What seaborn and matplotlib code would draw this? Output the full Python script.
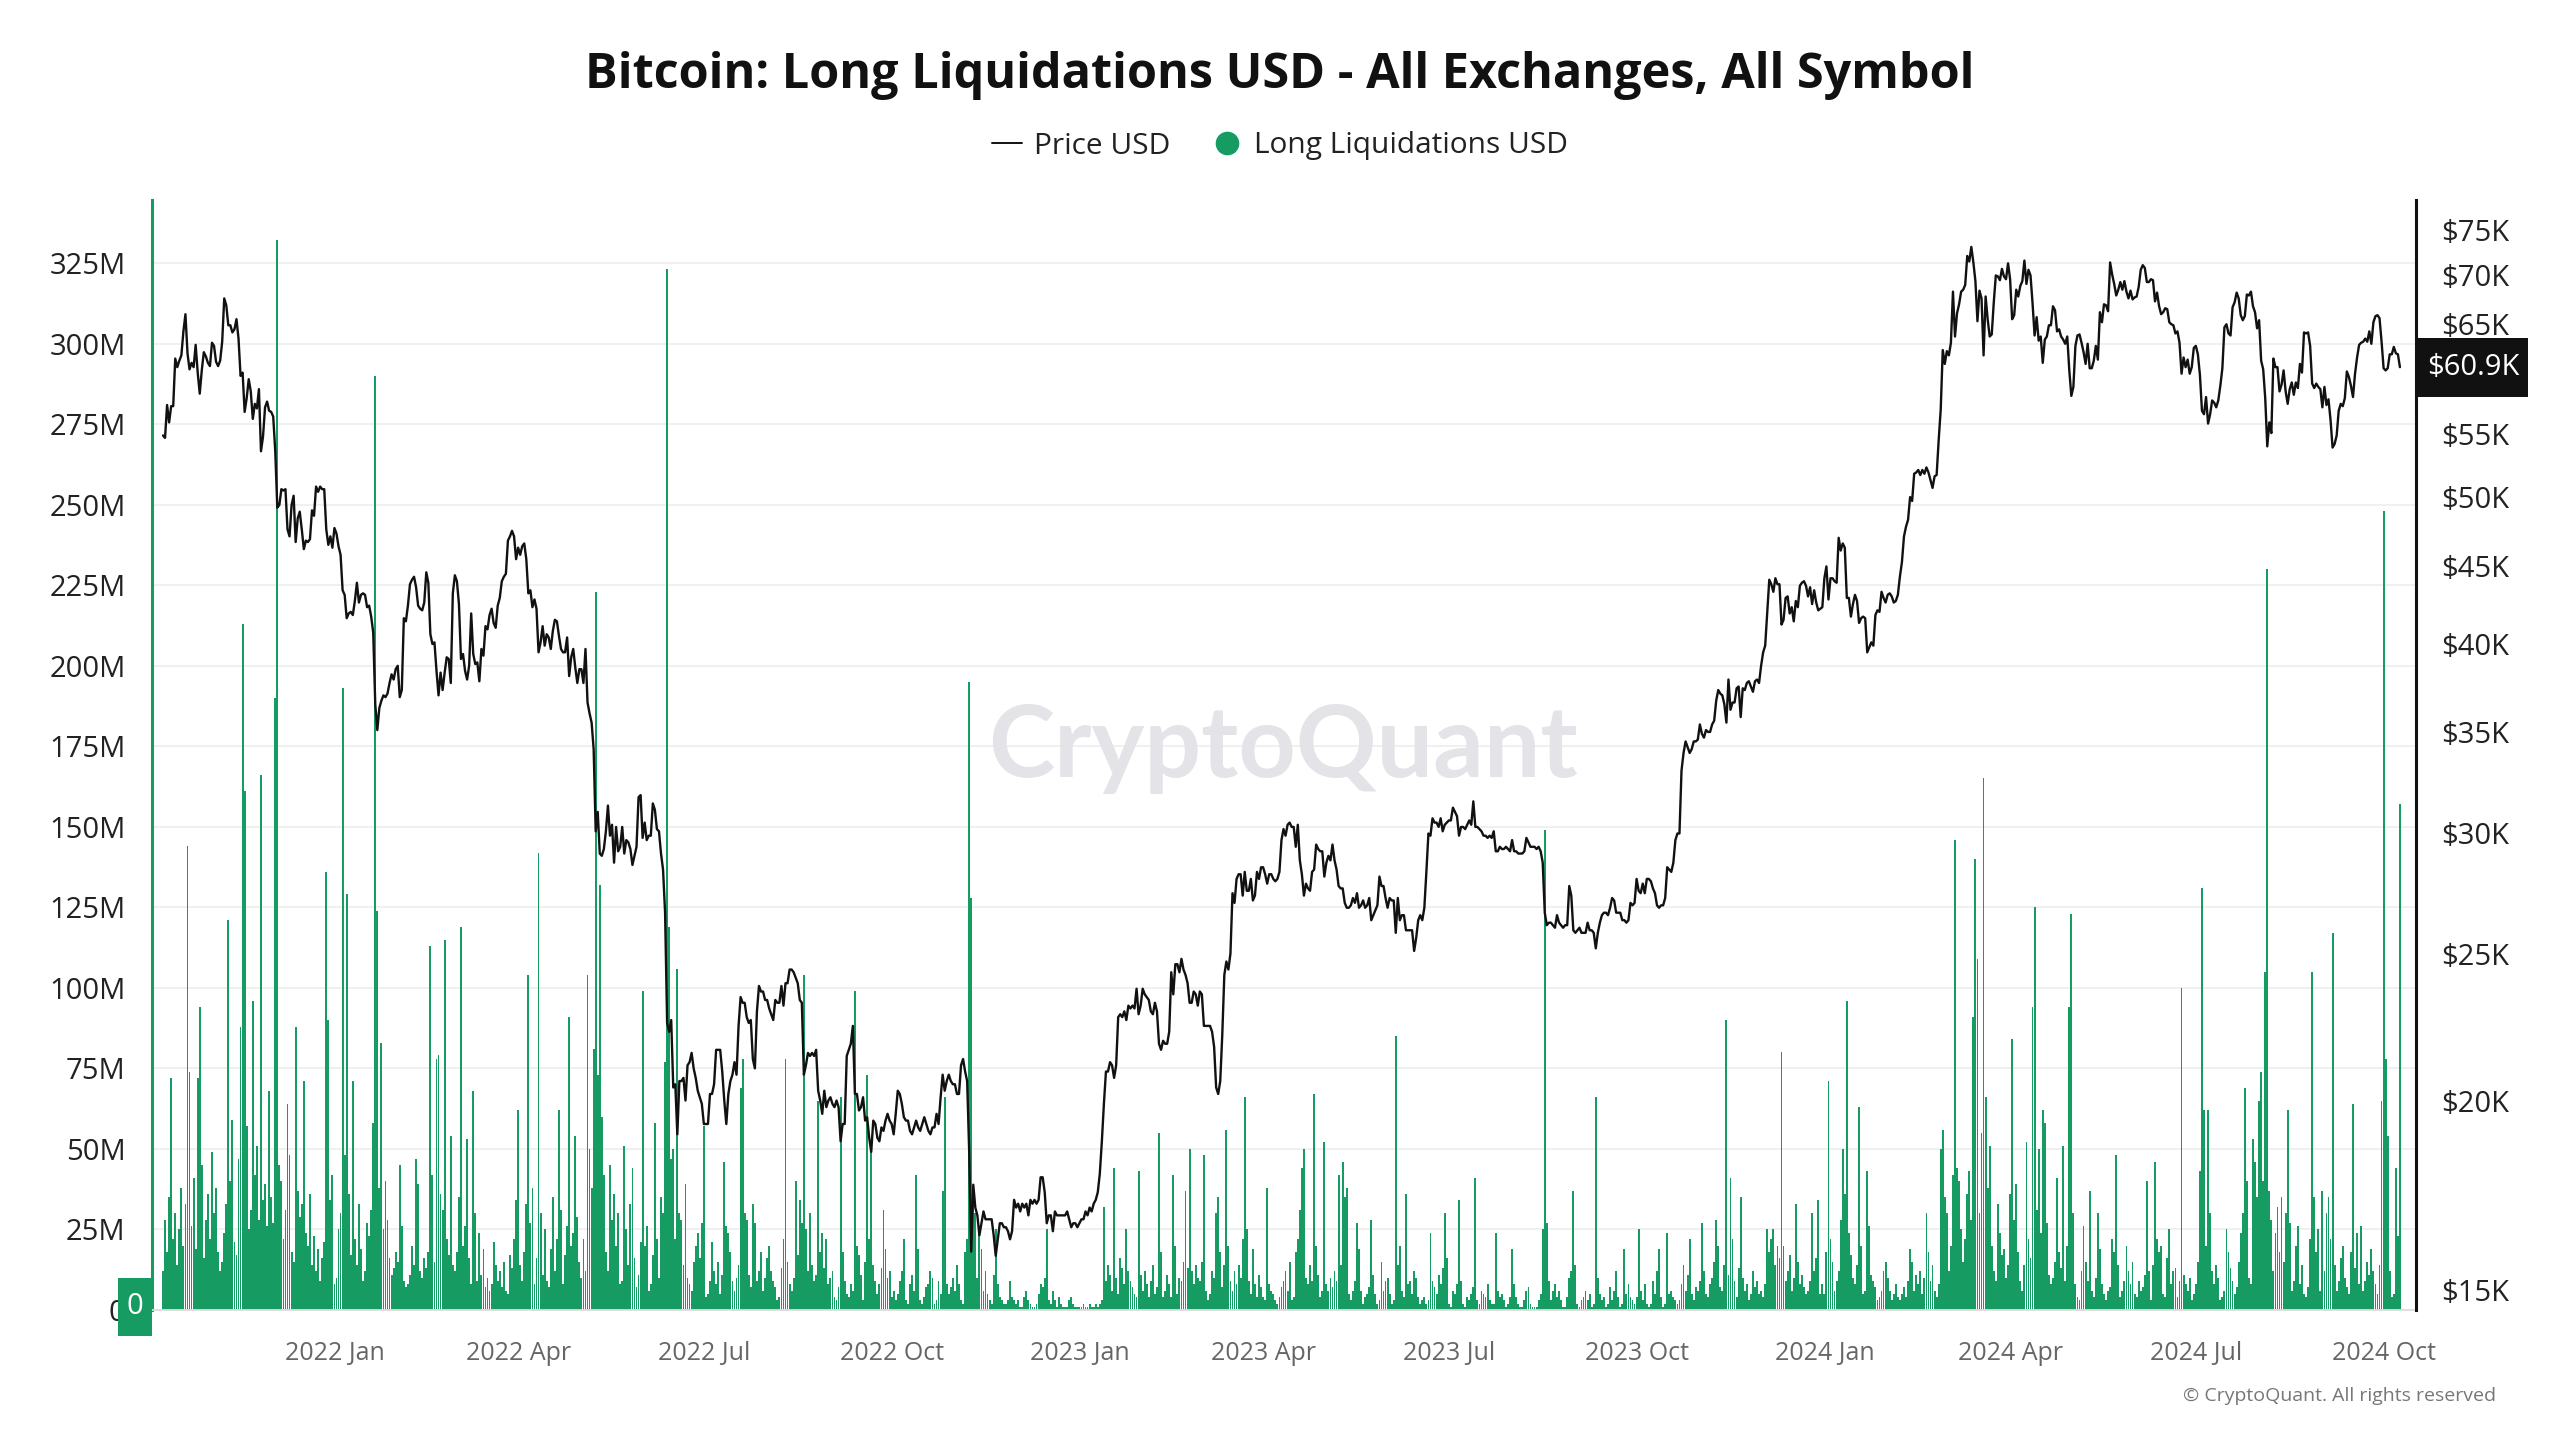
import numpy as np
import pandas as pd
import matplotlib
matplotlib.use("Agg")
import matplotlib.pyplot as plt
import matplotlib.ticker as mticker
from matplotlib.lines import Line2D
from matplotlib.patches import Rectangle
import seaborn as sns

# ---------------- data (daily, starting 2021-10-09) ----------------
START_DATE = "2021-10-09"

# Long liquidations, USD millions
liq_2021 = [12, 28, 18, 35, 72, 22, 30, 14, 25, 38, 20, 33, 144, 74, 26, 41, 19, 72, 94, 45, 16, 28, 36,
            22, 49, 30, 38, 18, 12, 15, 24, 33, 121, 40, 59, 21, 17, 47, 88, 213, 161, 57, 25, 31, 96, 42, 51, 28, 166, 34, 39, 26, 68,
            35, 27, 190, 332, 45, 40, 22, 31, 64, 48, 18, 15, 88, 37, 29, 33, 71, 24, 20, 36, 14, 23, 12, 19, 9, 16, 21, 136, 90, 34, 42]
liq_2022 = [8, 10, 25, 30, 193, 48, 129, 36, 17, 71, 22, 14, 33, 19, 9, 12, 27, 23, 31, 58, 290, 124, 38, 83, 25, 40, 28, 16, 11, 13, 18,
            15, 45, 26, 9, 7, 8, 11, 20, 14, 47, 39, 12, 10, 16, 13, 18, 113, 42, 15, 78, 79, 36, 31, 115, 22, 17, 54, 14,
            12, 18, 35, 119, 20, 26, 53, 16, 8, 68, 30, 9, 24, 11, 19, 7, 10, 6, 8, 21, 14, 9, 12, 7, 15, 6, 5, 17, 13, 22, 34,
            62, 14, 9, 18, 33, 104, 27, 38, 8, 16, 142, 30, 11, 25, 9, 7, 19, 35, 12, 22, 62, 31, 8, 17, 26, 91, 20, 24, 54, 29,
            15, 10, 22, 12, 104, 50, 38, 81, 223, 73, 132, 60, 42, 18, 12, 45, 28, 36, 20, 30, 8, 9, 51, 25, 14, 33, 44, 16, 7, 11, 21,
            99, 20, 26, 6, 8, 17, 58, 22, 10, 35, 30, 77, 323, 119, 47, 50, 22, 106, 30, 28, 14, 39, 10, 8, 6, 15, 20, 24, 16, 27,
            57, 4, 5, 9, 21, 12, 8, 15, 5, 11, 46, 26, 24, 18, 9, 6, 10, 14, 69, 78, 30, 28, 11, 7, 33, 27, 9, 12, 18, 6, 10,
            16, 20, 12, 9, 7, 3, 4, 13, 22, 78, 15, 8, 6, 10, 40, 17, 34, 27, 104, 25, 12, 30, 14, 9, 11, 65, 18, 24, 13, 22, 8,
            10, 12, 4, 3, 7, 66, 18, 9, 5, 4, 8, 6, 99, 20, 17, 11, 3, 15, 73, 22, 50, 14, 9, 5, 8, 13, 31, 19, 10, 12,
            4, 6, 3, 5, 9, 12, 22, 3, 2, 8, 11, 6, 42, 19, 3, 2, 4, 7, 8, 12, 10, 2, 3, 9, 5, 37, 66, 8, 5, 7, 10,
            6, 14, 8, 3, 2, 18, 22, 195, 128, 38, 30, 10, 25, 19, 6, 12, 5, 3, 2, 11, 25, 8, 4, 3, 2, 2, 3, 9, 4, 3,
            2, 3, 1, 1, 4, 6, 3, 2, 1, 1, 2, 5, 8, 7, 10, 25, 3, 2, 6, 3, 1, 4, 2, 1, 1, 1, 3, 4, 2, 1, 1]
liq_2023 = [1, 1, 2, 1, 1, 2, 1, 1, 2, 1, 2, 3, 32, 9, 14, 11, 6, 44, 10, 5, 16, 13, 8, 25, 12, 9, 7, 5, 4, 43, 11,
            6, 12, 8, 4, 9, 14, 5, 7, 55, 18, 4, 6, 11, 8, 4, 42, 20, 5, 10, 9, 15, 37, 13, 50, 12, 8, 14, 10,
            9, 15, 48, 6, 3, 5, 12, 10, 30, 35, 18, 7, 14, 56, 20, 9, 6, 12, 8, 14, 10, 22, 66, 25, 9, 5, 19, 8, 4, 11, 7,
            4, 3, 38, 8, 6, 5, 3, 2, 4, 7, 9, 12, 6, 15, 3, 4, 18, 22, 31, 44, 50, 10, 8, 14, 9, 67, 20, 11, 4, 6,
            52, 8, 6, 10, 7, 12, 9, 42, 14, 46, 35, 38, 5, 3, 6, 9, 27, 19, 6, 2, 4, 5, 7, 28, 11, 5, 2, 3, 15, 6, 9,
            10, 5, 2, 3, 85, 14, 20, 6, 4, 36, 8, 9, 5, 12, 10, 4, 2, 3, 4, 2, 3, 24, 9, 7, 5, 11, 8, 13, 30, 16,
            2, 1, 6, 5, 8, 34, 9, 2, 1, 4, 3, 5, 7, 41, 3, 2, 6, 5, 4, 8, 3, 2, 2, 24, 6, 4, 5, 3, 1, 2, 4,
            19, 8, 4, 2, 1, 1, 3, 6, 7, 2, 1, 1, 1, 3, 5, 25, 149, 27, 9, 3, 6, 8, 4, 6, 3, 1, 1, 4, 10, 12, 37,
            14, 2, 1, 3, 4, 6, 3, 5, 1, 2, 66, 10, 5, 3, 4, 1, 2, 7, 3, 6, 12, 4, 1, 2, 19, 5, 8, 4, 3, 2,
            4, 25, 6, 3, 8, 2, 1, 2, 9, 5, 12, 19, 4, 1, 2, 24, 5, 6, 4, 3, 2, 3, 8, 14, 6, 11, 22, 5, 3, 7, 6,
            9, 27, 12, 5, 4, 8, 10, 15, 28, 20, 7, 6, 14, 90, 11, 41, 22, 9, 4, 13, 35, 10, 6, 8, 3, 5, 12, 7, 9, 5,
            6, 4, 8, 25, 18, 22, 25, 14, 20, 16, 80, 20, 9, 12, 17, 6, 10, 33, 15, 8, 11, 7, 5, 6, 9, 30, 12, 16, 34, 5, 8]
liq_2024 = [5, 18, 71, 22, 15, 6, 9, 12, 28, 50, 36, 96, 24, 17, 10, 8, 14, 63, 20, 5, 6, 43, 26, 11, 9, 7, 3, 4, 6, 12, 15,
            10, 6, 3, 5, 8, 4, 3, 5, 7, 4, 9, 19, 15, 6, 11, 8, 12, 5, 10, 30, 18, 9, 14, 6, 4, 8, 50, 56, 35,
            30, 12, 20, 42, 146, 44, 40, 25, 15, 22, 36, 43, 28, 91, 140, 109, 30, 55, 165, 66, 38, 51, 20, 12, 9, 33, 24, 17, 19, 10, 14,
            36, 84, 28, 39, 18, 9, 6, 14, 52, 22, 16, 94, 125, 31, 50, 24, 62, 58, 27, 11, 8, 10, 15, 41, 18, 13, 51, 9, 20, 94,
            123, 30, 8, 4, 3, 12, 26, 15, 9, 37, 6, 4, 10, 30, 19, 8, 5, 3, 6, 7, 22, 18, 48, 14, 4, 6, 9, 20, 12, 8, 15,
            5, 4, 9, 6, 7, 11, 40, 12, 3, 14, 46, 22, 18, 20, 5, 4, 16, 25, 8, 12, 13, 4, 9, 100, 11, 8, 6, 10, 3, 5,
            8, 15, 43, 131, 62, 20, 62, 30, 12, 8, 14, 10, 3, 4, 6, 25, 18, 13, 9, 5, 7, 15, 24, 30, 69, 40, 10, 8, 53, 46, 35,
            65, 74, 40, 105, 230, 37, 28, 12, 24, 32, 18, 35, 15, 30, 62, 27, 6, 9, 20, 26, 8, 14, 5, 4, 7, 22, 105, 35, 18, 25, 6,
            37, 12, 30, 35, 22, 117, 14, 6, 9, 16, 20, 10, 7, 5, 18, 64, 13, 24, 8, 26, 6, 9, 15, 11, 19, 12, 8, 5, 14, 65,
            248, 78, 54, 12, 4, 5, 44, 23, 157]

# BTC price, USD thousands
price_2021 = [54.9, 54.7, 57.5, 56.0, 57.4, 57.4, 61.7, 60.9, 61.5, 62.0, 64.3, 66.0, 62.2, 60.7, 61.3, 60.9, 63.0, 60.4, 58.5, 60.6, 62.3, 61.9, 61.3,
              61.0, 63.2, 62.9, 61.4, 61.0, 61.5, 63.3, 67.6, 66.9, 64.9, 64.9, 64.2, 64.5, 65.5, 63.6, 60.1, 60.4, 56.9, 58.1, 59.8, 58.7, 56.3, 57.6, 57.2, 58.9, 53.6, 54.8, 57.3, 57.8, 57.0,
              56.9, 56.5, 53.6, 49.2, 49.4, 50.6, 50.5, 50.6, 47.6, 47.1, 49.4, 50.1, 46.7, 48.4, 48.9, 47.6, 46.2, 46.8, 46.7, 46.9, 49.0, 48.6, 50.8, 50.4, 50.8, 50.6, 50.6, 47.6, 46.5, 47.1, 46.3]
price_2022 = [47.7, 47.3, 46.4, 45.8, 43.4, 43.1, 41.6, 41.9, 42.0, 41.8, 42.7, 43.9, 42.6, 43.1, 43.2, 43.1, 42.3, 42.4, 41.7, 40.7, 36.5, 35.1, 36.3, 36.7, 37.0, 36.9, 37.1, 37.7, 38.2, 37.9, 38.5,
              38.7, 36.9, 37.3, 41.6, 41.4, 42.4, 43.8, 44.1, 44.3, 43.6, 42.4, 42.2, 42.1, 42.6, 44.6, 43.9, 40.6, 40.0, 40.1, 38.4, 37.0, 38.3, 37.3, 38.3, 39.2, 39.1, 37.7, 43.2,
              44.4, 44.0, 42.5, 39.1, 39.4, 38.4, 37.9, 38.7, 41.9, 39.4, 38.8, 38.9, 37.8, 39.7, 39.3, 41.1, 40.9, 41.8, 42.2, 41.3, 41.0, 42.4, 42.9, 44.0, 44.3, 44.5, 46.8, 47.1, 47.5, 47.1, 45.5,
              46.3, 45.8, 46.4, 46.6, 45.5, 43.2, 43.4, 42.3, 42.8, 42.2, 39.5, 40.1, 41.1, 39.9, 40.6, 40.4, 39.7, 40.8, 41.5, 41.4, 40.5, 39.7, 39.5, 39.5, 40.4, 38.1, 39.2, 39.7, 38.6, 37.7,
              38.5, 38.5, 37.7, 39.7, 36.6, 36.0, 35.5, 34.1, 30.1, 31.0, 29.1, 29.0, 29.3, 30.1, 31.3, 29.9, 30.4, 28.7, 30.3, 29.2, 29.4, 30.3, 29.1, 29.7, 29.6, 29.3, 28.6, 29.0, 29.4, 31.7, 31.8,
              29.8, 30.5, 29.7, 29.9, 29.9, 31.4, 31.1, 30.2, 30.1, 29.1, 28.4, 26.6, 22.5, 22.2, 22.6, 20.4, 20.5, 19.0, 20.6, 20.6, 20.7, 20.0, 21.1, 21.2, 21.5, 21.0, 20.7, 20.3, 20.1, 19.9,
              19.3, 19.3, 19.3, 20.2, 20.2, 20.5, 21.6, 21.6, 21.6, 20.9, 20.0, 19.3, 20.2, 20.6, 20.8, 21.2, 20.8, 22.4, 23.4, 23.2, 23.2, 22.7, 22.5, 22.6, 21.3, 21.0, 22.9, 23.8, 23.6, 23.6, 23.3,
              23.3, 23.0, 22.8, 22.6, 23.3, 23.2, 23.2, 23.8, 23.1, 23.9, 23.9, 24.4, 24.4, 24.3, 24.1, 23.9, 23.3, 23.2, 20.8, 21.1, 21.5, 21.4, 21.5, 21.4, 21.6, 20.3, 20.0, 19.6, 20.3, 19.8, 20.0,
              20.1, 19.9, 19.8, 20.0, 19.8, 18.8, 19.3, 19.3, 21.4, 21.6, 21.8, 22.4, 20.2, 20.2, 19.7, 19.8, 20.1, 19.4, 19.5, 18.9, 18.5, 19.4, 19.3, 18.9, 18.8, 19.2, 19.1, 19.4, 19.6, 19.4,
              19.3, 19.0, 19.6, 20.3, 20.2, 19.9, 19.5, 19.4, 19.4, 19.1, 19.0, 19.2, 19.4, 19.2, 19.1, 19.3, 19.5, 19.3, 19.1, 19.0, 19.2, 19.2, 19.6, 19.3, 20.1, 20.8, 20.3, 20.6, 20.8, 20.6, 20.5,
              20.5, 20.2, 20.2, 21.1, 21.3, 20.9, 20.6, 18.5, 15.9, 17.6, 17.0, 16.8, 16.3, 16.6, 16.9, 16.7, 16.7, 16.7, 16.7, 16.3, 15.8, 16.2, 16.6, 16.6, 16.5, 16.5, 16.4, 16.2, 16.4, 17.2,
              17.0, 17.1, 16.9, 17.1, 17.0, 17.1, 16.8, 17.2, 17.1, 17.2, 17.1, 17.2, 17.8, 17.8, 17.4, 16.6, 16.8, 16.8, 16.4, 16.9, 16.8, 16.8, 16.8, 16.8, 16.8, 16.9, 16.7, 16.5, 16.6, 16.6, 16.5]
price_2023 = [16.6, 16.7, 16.7, 16.9, 16.8, 17.0, 16.9, 17.1, 17.2, 17.4, 17.9, 18.8, 19.9, 20.9, 20.9, 21.2, 21.1, 20.7, 21.1, 22.7, 22.8, 22.7, 22.9, 22.6, 23.1, 23.0, 23.1, 23.0, 23.7, 22.8, 23.1,
              23.7, 23.5, 23.4, 23.3, 22.9, 22.8, 23.2, 22.9, 21.8, 21.6, 21.9, 21.8, 21.8, 22.2, 24.3, 23.5, 24.6, 24.6, 24.3, 24.8, 24.4, 24.2, 23.9, 23.2, 23.2, 23.6, 23.5, 23.1,
              23.6, 23.5, 22.4, 22.4, 22.4, 22.4, 22.2, 21.7, 20.4, 20.2, 20.6, 22.1, 24.2, 24.7, 24.4, 25.0, 27.4, 27.0, 28.0, 28.2, 28.2, 27.3, 28.3, 27.5, 27.5, 28.0, 27.1, 27.3, 28.3, 28.0, 28.5,
              28.5, 28.2, 27.8, 28.2, 28.2, 28.0, 27.9, 28.0, 28.3, 29.7, 30.2, 29.9, 30.4, 30.5, 30.3, 30.3, 29.4, 30.4, 28.8, 28.2, 27.3, 27.8, 27.6, 27.5, 28.3, 28.4, 29.5, 29.3, 29.2, 29.2,
              28.1, 28.7, 29.0, 28.8, 29.5, 28.8, 28.4, 27.7, 27.6, 27.6, 27.0, 26.8, 26.8, 26.9, 27.2, 27.0, 27.4, 26.8, 26.9, 27.1, 26.8, 26.9, 27.2, 26.3, 26.5, 26.7, 26.9, 28.1, 27.7, 27.7, 27.2,
              26.8, 27.2, 27.1, 27.1, 25.8, 27.2, 26.3, 26.5, 26.5, 25.9, 25.9, 25.9, 25.9, 25.1, 25.6, 26.3, 26.5, 26.3, 26.8, 28.3, 30.0, 29.9, 30.7, 30.5, 30.5, 30.3, 30.7, 30.1, 30.4, 30.5,
              30.6, 30.6, 31.2, 31.0, 30.8, 29.9, 30.3, 30.3, 30.2, 30.4, 30.6, 30.4, 31.5, 30.3, 30.3, 30.2, 30.1, 29.9, 29.9, 29.8, 29.9, 29.8, 30.1, 29.2, 29.2, 29.4, 29.3, 29.3, 29.4, 29.3, 29.2,
              29.7, 29.2, 29.2, 29.1, 29.1, 29.1, 29.2, 29.8, 29.6, 29.4, 29.4, 29.4, 29.3, 29.4, 29.2, 28.7, 26.6, 26.1, 26.2, 26.2, 26.1, 26.0, 26.5, 26.2, 26.1, 26.0, 26.1, 26.1, 27.7, 27.3, 25.9,
              25.8, 25.9, 26.0, 25.8, 25.8, 25.8, 26.2, 25.9, 25.9, 25.8, 25.2, 25.8, 26.2, 26.5, 26.6, 26.6, 26.5, 26.8, 27.2, 27.1, 26.6, 26.6, 26.6, 26.3, 26.3, 26.2, 26.3, 27.0, 26.9, 27.0,
              28.0, 27.5, 27.4, 27.8, 27.4, 28.0, 28.0, 27.9, 27.6, 27.4, 26.9, 26.8, 26.9, 26.9, 27.2, 28.5, 28.4, 28.3, 28.7, 29.7, 30.0, 30.0, 33.0, 33.9, 34.5, 34.2, 33.9, 34.1, 34.5, 34.5, 34.6,
              35.4, 34.9, 34.7, 35.1, 35.0, 35.0, 35.4, 35.6, 36.7, 37.3, 37.1, 37.0, 36.5, 35.5, 37.9, 36.2, 36.6, 36.6, 37.4, 37.5, 35.8, 37.4, 37.3, 37.7, 37.8, 37.5, 37.2, 37.8, 37.9, 37.7,
              38.7, 39.5, 39.9, 41.9, 44.1, 43.8, 43.3, 44.2, 43.8, 43.8, 41.2, 41.5, 42.9, 43.0, 41.9, 42.3, 41.4, 42.7, 42.3, 43.7, 43.9, 44.0, 43.7, 43.0, 43.6, 42.5, 43.4, 42.6, 42.1, 42.2, 42.3]
price_2024 = [44.2, 45.0, 42.8, 44.2, 44.2, 44.0, 43.9, 47.0, 46.1, 46.6, 46.3, 42.9, 42.9, 41.7, 42.5, 43.1, 42.7, 41.3, 41.6, 41.7, 41.6, 39.5, 39.8, 40.1, 39.9, 41.8, 42.1, 42.0, 43.3, 42.9, 42.6,
              43.1, 43.2, 43.0, 42.6, 42.7, 43.1, 44.3, 45.3, 47.1, 47.8, 48.3, 50.0, 49.7, 51.8, 51.9, 52.1, 51.7, 52.1, 51.8, 52.3, 51.9, 51.3, 50.7, 51.6, 51.7, 54.5, 57.1, 62.5, 61.2,
              62.4, 62.0, 63.2, 68.3, 63.8, 66.1, 67.0, 68.3, 68.5, 69.0, 72.1, 71.5, 73.1, 71.4, 69.4, 65.3, 68.4, 67.6, 62.0, 67.8, 65.5, 63.8, 64.0, 67.2, 70.0, 69.9, 69.5, 70.7, 69.9, 69.6, 71.3,
              69.6, 65.5, 65.9, 68.5, 67.8, 68.9, 69.4, 71.6, 69.1, 70.6, 70.0, 67.1, 63.9, 65.7, 63.4, 63.8, 61.3, 63.5, 63.8, 64.9, 64.9, 66.8, 66.4, 64.3, 64.5, 63.8, 63.5, 63.1, 63.8, 60.6,
              58.3, 59.1, 62.9, 63.9, 64.0, 63.2, 62.3, 61.2, 63.1, 60.8, 60.8, 61.5, 62.9, 61.6, 66.2, 65.2, 67.0, 66.9, 66.3, 71.4, 70.1, 69.1, 67.9, 68.5, 69.3, 68.5, 69.4, 68.3, 67.6, 68.4, 67.5,
              67.7, 67.8, 68.8, 70.6, 71.1, 70.8, 69.3, 69.3, 69.6, 69.5, 67.3, 68.2, 66.8, 66.0, 66.2, 66.6, 66.5, 65.2, 65.0, 64.9, 64.1, 64.3, 63.2, 60.3, 61.8, 60.9, 61.6, 60.3, 60.9, 62.7,
              62.9, 62.1, 60.2, 57.0, 56.7, 58.2, 55.9, 56.7, 57.9, 57.7, 57.3, 57.9, 59.2, 60.8, 64.7, 65.0, 64.1, 63.9, 66.7, 67.2, 68.2, 67.6, 65.9, 65.4, 65.8, 68.0, 67.9, 68.3, 66.8, 66.2, 64.6,
              65.4, 61.5, 60.7, 58.1, 54.0, 56.0, 55.1, 61.7, 60.9, 60.9, 58.7, 59.3, 60.6, 58.7, 57.6, 58.9, 59.5, 58.4, 59.5, 59.0, 61.2, 60.4, 64.2, 64.1, 64.2, 62.9, 59.4, 59.0, 59.4, 59.1, 58.9,
              57.3, 59.1, 57.5, 58.0, 56.2, 53.9, 54.2, 54.9, 57.0, 57.6, 57.4, 58.1, 60.5, 60.0, 59.2, 58.2, 60.3, 61.8, 63.0, 63.2, 63.3, 63.6, 63.3, 64.3, 63.1, 65.2, 65.8, 65.9, 65.6, 63.3,
              60.8, 60.6, 60.8, 62.1, 62.1, 62.8, 62.2, 62.1, 60.9]

liq_ticks_m = [0, 25, 50, 75, 100, 125, 150, 175, 200, 225, 250, 275, 300, 325]
price_ticks_k = [15, 20, 25, 30, 35, 40, 45, 50, 55, 60, 65, 70, 75]
last_price_label = "$60.9K"
TITLE = "Bitcoin: Long Liquidations USD - All Exchanges, All Symbol"

# ---------------- assemble ----------------
liq = np.array(liq_2021 + liq_2022 + liq_2023 + liq_2024, dtype=float) * 1e6
price = np.array(price_2021 + price_2022 + price_2023 + price_2024, dtype=float) * 1e3
n = min(len(liq), len(price))
liq, price = liq[:n], price[:n]
dates = pd.date_range(START_DATE, periods=n, freq="D")
df = pd.DataFrame({"date": dates, "liq": liq, "price": price})

GREEN = "#169b62"
W, H = 2560, 1440

sns.set_theme(style="white")
plt.rcParams['font.family'] = ['Open Sans', 'DejaVu Sans']

fig = plt.figure(figsize=(W / 100, H / 100), dpi=100)
fig.patch.set_facecolor("white")
L, R, T, B = 152, 2416, 200, 1310
ax = fig.add_axes([L / W, 1 - B / H, (R - L) / W, (B - T) / H])
ax2 = ax.twinx()
ax2.patch.set_visible(False)

# bars
ax.bar(df["date"], df["liq"], width=0.9, color=GREEN, linewidth=0, antialiased=False, zorder=2)

# price line
sns.lineplot(data=df, x="date", y="price", ax=ax2, color="#111111", linewidth=1.7, zorder=3)
ax2.set_yscale("log")

# limits
y_top_m = 325 * (B - T) / (B - 263)
ax.set_ylim(0, y_top_m * 1e6)
px_per_ln = (1290 - 230) / np.log(75 / 15)
p_lo = 15 * np.exp(-(B - 1290) / px_per_ln)
p_hi = 75 * np.exp((230 - T) / px_per_ln)
ax2.set_ylim(p_lo * 1e3, p_hi * 1e3)

px_per_day = 2.041
x0 = dates[0] - pd.Timedelta(days=(163 - L) / px_per_day)
x1 = dates[0] + pd.Timedelta(days=(R - 163) / px_per_day)
ax.set_xlim(x0, x1)

# x ticks
xt = pd.date_range("2022-01-01", "2024-10-01", freq="QS")
ax.set_xticks(xt)
ax.set_xticklabels([d.strftime("%Y %b") for d in xt])
ax.tick_params(axis="x", length=11, width=1.3, color="#cccccc", pad=11,
               labelsize=18, labelcolor="#666666")

# left y ticks
ax.set_yticks([v * 1e6 for v in liq_ticks_m])
ax.set_yticklabels(["0" if v == 0 else f"{v}M" for v in liq_ticks_m])
ax.tick_params(axis="y", length=0, pad=19, labelsize=21, labelcolor="#222222")
ax.yaxis.grid(True, color="#efefef", linewidth=1.3)
ax.xaxis.grid(False)
ax.set_axisbelow(True)

# right y ticks
ax2.yaxis.set_major_locator(mticker.FixedLocator([v * 1e3 for v in price_ticks_k]))
ax2.yaxis.set_minor_locator(mticker.NullLocator())
ax2.yaxis.set_major_formatter(mticker.FuncFormatter(lambda v, p: f"${v/1e3:.0f}K"))
ax2.tick_params(axis="y", which="both", length=0, pad=18, labelsize=21, labelcolor="#222222")
ax2.grid(False)

ax.set_xlabel("")
ax.set_ylabel("")
ax2.set_xlabel("")
ax2.set_ylabel("")

# spines
for a in (ax, ax2):
    a.spines["top"].set_visible(False)
ax.spines["right"].set_visible(False)
ax.spines["left"].set_color(GREEN)
ax.spines["left"].set_linewidth(2.2)
ax.spines["bottom"].set_color("#dddddd")
ax.spines["bottom"].set_linewidth(1.3)
ax2.spines["left"].set_visible(False)
ax2.spines["bottom"].set_visible(False)
ax2.spines["right"].set_color("#111111")
ax2.spines["right"].set_linewidth(2.2)

# watermark
ax.text(0.4996, 0.506, "CryptoQuant", transform=ax.transAxes, ha="center", va="center",
        fontsize=72, color="#e3e3e8", fontweight="bold", family=["Lato", "DejaVu Sans"], zorder=1)

# last price marker: black box on the right axis at the last price
y_last_px = ax2.transData.transform((0, price[-1]))[1]
box_h = 59
fig.patches.append(Rectangle((2418 / W, (y_last_px - box_h / 2) / H), 110 / W, box_h / H,
                             transform=fig.transFigure, facecolor="#111111", edgecolor="none", zorder=5))
fig.text(2473 / W, y_last_px / H, last_price_label, ha="center", va="center",
         fontsize=21, color="white", zorder=6)

# zero marker on left axis
fig.patches.append(Rectangle((118 / W, 1 - 1336 / H), 34 / W, 58 / H,
                             transform=fig.transFigure, facecolor=GREEN, edgecolor="none", zorder=5))
fig.text(135 / W, 1 - 1307 / H, "0", ha="center", va="center", fontsize=21, color="white", zorder=6)

# title
fig.text(0.5, 1 - 76 / H, TITLE, ha="center", va="center", fontsize=35, fontweight="bold", color="#111111")

# legend
handles = [Line2D([0], [0], color="#111111", lw=1.4),
           Line2D([0], [0], marker="o", linestyle="none", markersize=16,
                  markerfacecolor=GREEN, markeredgecolor=GREEN)]
fig.legend(handles, ["Price USD", "Long Liquidations USD"], loc="center",
           bbox_to_anchor=(0.5, 1 - 146 / H), ncol=2, frameon=False, fontsize=21.5,
           handlelength=1.0, handletextpad=0.4, columnspacing=1.4, labelcolor="#222222")

# copyright
fig.text(2496 / W, 1 - 1396 / H, "\u00a9 CryptoQuant. All rights reserved", ha="right", va="center",
         fontsize=14, color="#777777")

fig.savefig("out.png", dpi=100, facecolor="white")
